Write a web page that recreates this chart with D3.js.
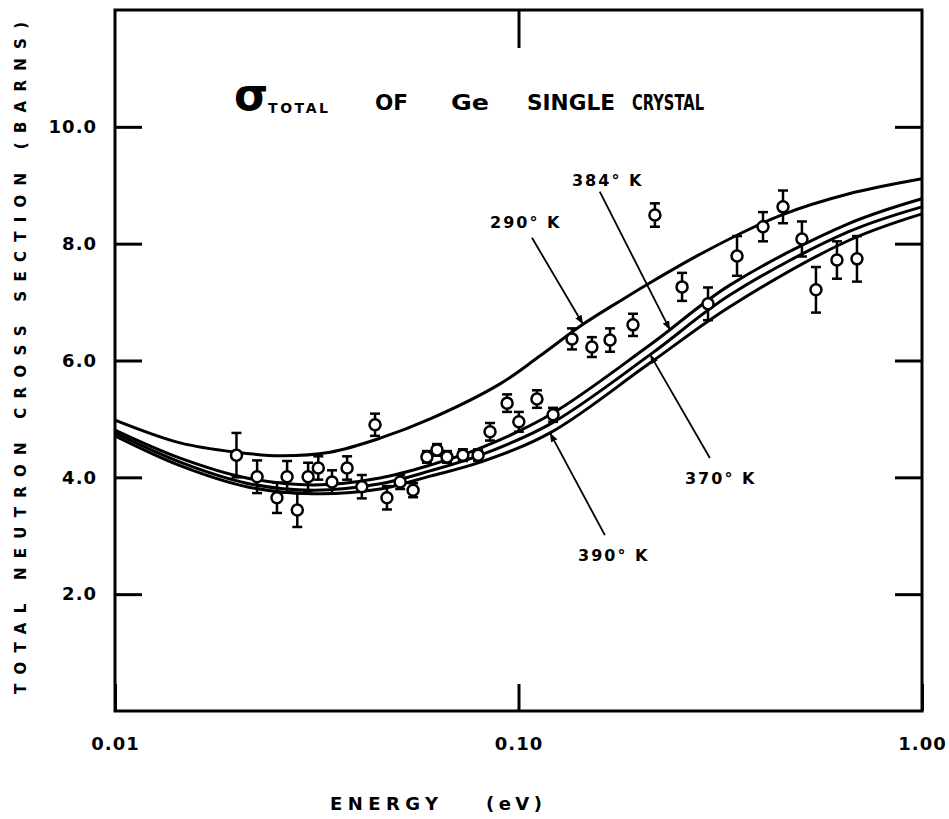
<!DOCTYPE html>
<html>
<head>
<meta charset="utf-8">
<script src="https://cdn.jsdelivr.net/npm/d3@7"></script>
<style>
  body { margin: 0; background: #fff; }
  svg text { font-family: "DejaVu Sans", sans-serif; font-weight: bold; fill: #000; }
  .tick line { stroke: #000; stroke-width: 3; }
  .tick text { font-size: 18px; letter-spacing: 1px; }
</style>
</head>
<body>
<div class="graph"></div>
<script>
// measured points (energy in eV, cross section in barns, half error bar)
var energies = [0.0200, 0.0225, 0.0252, 0.0267, 0.0283, 0.0301, 0.0319, 0.0345, 0.0376, 0.0409,
                0.0441, 0.0472, 0.0509, 0.0548, 0.0593, 0.0628, 0.0665, 0.0728, 0.0794, 0.0850,
                0.0937, 0.1002, 0.1111, 0.1218, 0.1357, 0.1520, 0.1686, 0.1922, 0.2178, 0.2543,
                0.2949, 0.3480, 0.4036, 0.4524, 0.5040, 0.5460, 0.6155, 0.6900];
var sigmas = [4.38, 4.01, 3.65, 4.01, 3.44, 4.01, 4.16, 3.92, 4.16, 3.84,
              4.90, 3.65, 3.92, 3.78, 4.35, 4.47, 4.35, 4.38, 4.38, 4.78,
              5.27, 4.95, 5.34, 5.07, 6.37, 6.23, 6.35, 6.61, 8.49, 7.26,
              6.97, 7.79, 8.29, 8.63, 8.08, 7.21, 7.72, 7.74];
var errors = [0.38, 0.28, 0.26, 0.27, 0.29, 0.24, 0.20, 0.20, 0.20, 0.20,
              0.19, 0.20, 0.12, 0.12, 0.10, 0.10, 0.10, 0.10, 0.10, 0.15,
              0.15, 0.17, 0.15, 0.12, 0.18, 0.17, 0.20, 0.19, 0.20, 0.24,
              0.28, 0.34, 0.25, 0.28, 0.30, 0.39, 0.32, 0.39];

// calculated curves
var curveE290 = [0.0100, 0.0145, 0.0200, 0.0257, 0.0341, 0.0454, 0.0604, 0.0900, 0.1131,
                 0.1445, 0.1815, 0.2155, 0.2770, 0.3540, 0.4480, 0.6560, 1.0];
var sigma290  = [4.98, 4.59, 4.43, 4.37, 4.43, 4.67, 5.00, 5.60, 6.08,
                 6.62, 7.05, 7.36, 7.79, 8.17, 8.49, 8.85, 9.11];
var curveE = [0.0100, 0.0145, 0.0212, 0.0310, 0.0454, 0.0604, 0.0804, 0.1197, 0.2120, 0.3340, 0.6560, 1.0];
var sigma384 = [4.81, 4.33, 3.99, 3.87, 3.99, 4.21, 4.50, 5.07, 6.27, 7.29, 8.34, 8.77];
var sigma370 = [4.76, 4.26, 3.90, 3.78, 3.89, 4.11, 4.38, 4.91, 6.10, 7.12, 8.20, 8.63];
var sigma390 = [4.71, 4.20, 3.84, 3.72, 3.80, 4.02, 4.26, 4.76, 5.96, 6.92, 8.05, 8.51];

var xTicks = [0.01, 0.1, 1.0];
var yTicks = [2, 4, 6, 8, 10];

// curve labels: text, label energy/sigma, tail energy/sigma, arrow tip energy
var labelNames = ["290° K", "384° K", "370° K", "390° K"];
var labelE     = [0.085, 0.1357, 0.2586, 0.1405];
var labelS     = [8.36, 9.09, 3.99, 2.67];
var tailE      = [0.108, 0.159, 0.298, 0.1637];
var tailS      = [8.10, 8.89, 4.33, 3.01];
var tipE       = [0.1445, 0.2374, 0.212, 0.1197];

// title words
var titleWords = ["OF", "Ge", "SINGLE", "CRYSTAL"];
var titleX     = [375, 451, 527, 632];
var titleW     = [33, 38, 88, 72];

var width = 949, height = 819;
var svg = d3.select(".graph").append("svg")
    .attr("width", width)
    .attr("height", height);

var x = d3.scaleLog().domain([0.01, 1]).range([115, 922]);
var y = d3.scaleLinear().domain([0, 12]).range([711, 10]);

var curves = [
  { e: curveE290, s: sigma290 },
  { e: curveE, s: sigma384 },
  { e: curveE, s: sigma370 },
  { e: curveE, s: sigma390 }
];

// value of a curve at energy e (linear in log e)
function curveAt(c, e) {
  var le = Math.log10(e);
  for (var i = 1; i < c.e.length; i++) {
    var a = Math.log10(c.e[i - 1]), b = Math.log10(c.e[i]);
    if (le <= b) {
      var t = (le - a) / (b - a);
      return c.s[i - 1] + t * (c.s[i] - c.s[i - 1]);
    }
  }
  return c.s[c.s.length - 1];
}

// Axes: ticks point inward
svg.append("g")
    .attr("transform", "translate(" + x.range()[0] + ",0)")
    .call(d3.axisLeft(y).tickValues(yTicks).tickSizeInner(-27).tickSizeOuter(0)
      .tickPadding(18).tickFormat(d3.format(".1f")))
    .call(function(g) { g.select(".domain").remove(); });

svg.append("g")
    .attr("transform", "translate(" + x.range()[1] + ",0)")
    .call(d3.axisRight(y).tickValues(yTicks).tickSizeInner(-27).tickSizeOuter(0).tickFormat(""))
    .call(function(g) { g.select(".domain").remove(); });

svg.append("g")
    .attr("transform", "translate(0," + y.range()[0] + ")")
    .call(d3.axisBottom(x).tickValues(xTicks).tickSizeInner(-27).tickSizeOuter(0)
      .tickPadding(26).tickFormat(d3.format(".2f")))
    .call(function(g) { g.select(".domain").remove(); });

svg.append("g")
    .attr("transform", "translate(0," + y.range()[1] + ")")
    .call(d3.axisTop(x).tickValues([0.1]).tickSizeInner(-38).tickSizeOuter(0).tickFormat(""))
    .call(function(g) { g.select(".domain").remove(); });

// frame
svg.append("rect")
    .attr("x", x.range()[0])
    .attr("y", y.range()[1])
    .attr("width", x.range()[1] - x.range()[0])
    .attr("height", y.range()[0] - y.range()[1])
    .attr("fill", "none")
    .attr("stroke", "#000")
    .attr("stroke-width", 3);

// theory curves
var line = d3.line()
    .x(function(d) { return x(d[0]); })
    .y(function(d) { return y(d[1]); })
    .curve(d3.curveCatmullRom.alpha(0.5));

curves.forEach(function(c) {
  svg.append("path")
      .datum(d3.zip(c.e, c.s))
      .attr("d", line)
      .attr("fill", "none")
      .attr("stroke", "#000")
      .attr("stroke-width", 3);
});

// data points with error bars
var pts = svg.append("g").selectAll("g")
    .data(d3.range(energies.length))
    .join("g")
    .attr("transform", function(i) { return "translate(" + x(energies[i]) + ",0)"; });

pts.append("line")
    .attr("y1", function(i) { return y(sigmas[i] + errors[i]); })
    .attr("y2", function(i) { return y(sigmas[i] - errors[i]); })
    .attr("stroke", "#000").attr("stroke-width", 2.5);
pts.selectAll(".cap")
    .data(function(i) { return [sigmas[i] + errors[i], sigmas[i] - errors[i]]; })
    .join("line")
    .attr("class", "cap")
    .attr("x1", -5).attr("x2", 5)
    .attr("y1", function(v) { return y(v); })
    .attr("y2", function(v) { return y(v); })
    .attr("stroke", "#000").attr("stroke-width", 2.5);
pts.append("circle")
    .attr("cy", function(i) { return y(sigmas[i]); })
    .attr("r", 5.5)
    .attr("fill", "#fff")
    .attr("stroke", "#000")
    .attr("stroke-width", 2.5);

// arrow labels
svg.append("defs").append("marker")
    .attr("id", "arrow")
    .attr("viewBox", "0 0 10 10")
    .attr("refX", 10).attr("refY", 5)
    .attr("markerWidth", 5).attr("markerHeight", 5)
    .attr("orient", "auto")
    .append("path")
    .attr("d", "M0,1 L10,5 L0,9 z")
    .attr("fill", "#000");

labelNames.forEach(function(name, i) {
  var tip = curveAt(curves[i], tipE[i]);
  svg.append("line")
      .attr("x1", x(tailE[i])).attr("y1", y(tailS[i]))
      .attr("x2", x(tipE[i])).attr("y2", y(tip))
      .attr("stroke", "#000").attr("stroke-width", 1.8)
      .attr("marker-end", "url(#arrow)");
  svg.append("text")
      .attr("x", x(labelE[i]))
      .attr("y", y(labelS[i]))
      .attr("dy", "0.35em")
      .attr("font-size", 16)
      .attr("letter-spacing", 2)
      .text(name);
});

// title
svg.append("text")
    .attr("x", 234).attr("y", 110)
    .attr("font-size", 44).attr("font-weight", "normal")
    .text("σ");
svg.append("text")
    .attr("x", 268).attr("y", 113)
    .attr("font-size", 14)
    .attr("textLength", 60).attr("lengthAdjust", "spacing")
    .text("TOTAL");
titleWords.forEach(function(w, i) {
  svg.append("text")
      .attr("x", titleX[i]).attr("y", 110)
      .attr("font-size", 21)
      .attr("textLength", titleW[i]).attr("lengthAdjust", "spacingAndGlyphs")
      .text(w);
});

// axis titles
svg.append("text")
    .attr("transform", "translate(26,358) rotate(-90)")
    .attr("text-anchor", "middle")
    .attr("font-size", 15)
    .attr("textLength", 672)
    .attr("lengthAdjust", "spacing")
    .text("TOTAL NEUTRON CROSS SECTION (BARNS)");

svg.append("text")
    .attr("x", 330).attr("y", 810)
    .attr("font-size", 18)
    .attr("textLength", 108).attr("lengthAdjust", "spacing")
    .text("ENERGY");
svg.append("text")
    .attr("x", 486).attr("y", 810)
    .attr("font-size", 18)
    .attr("textLength", 56).attr("lengthAdjust", "spacing")
    .text("(eV)");
</script>
</body>
</html>
